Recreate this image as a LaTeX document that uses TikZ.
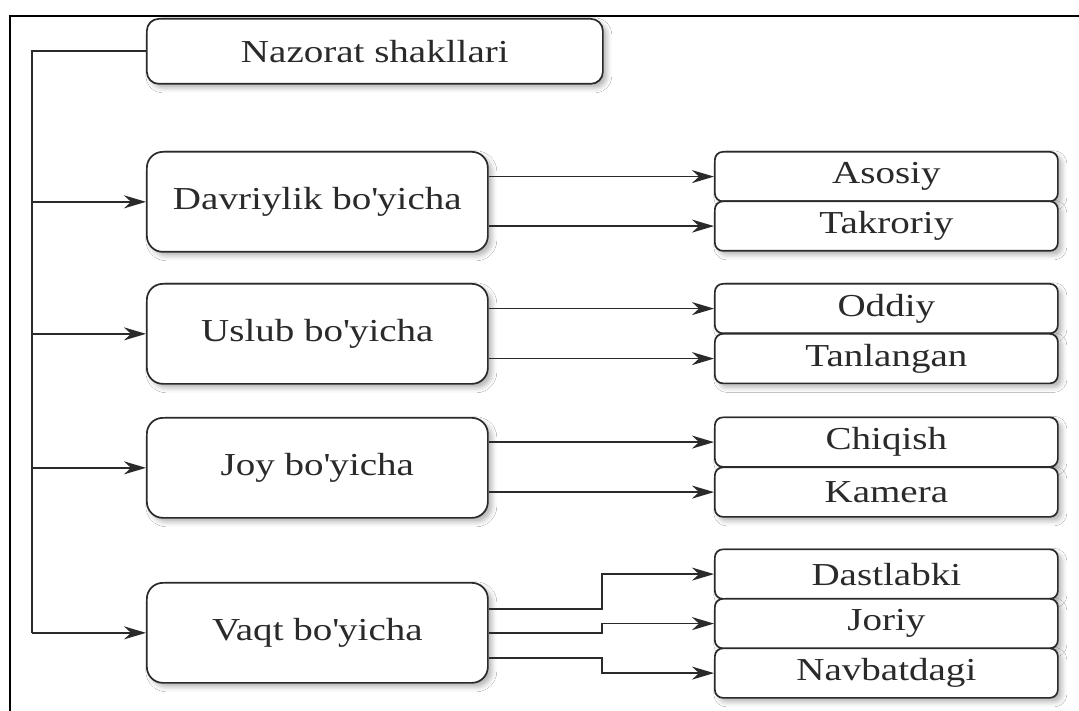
\documentclass[tikz,border=0pt]{standalone}
\usepackage{fontspec}
\setmainfont[FakeStretch=1.22]{Liberation Serif}
\usetikzlibrary{arrows.meta,shadows.blur}
\definecolor{ink}{HTML}{2A2A2A}
\begin{document}
\begin{tikzpicture}[x=1pt,y=-1pt,
  font=\fontsize{32}{38}\selectfont,
  boxbase/.style={draw=ink, line width=1.7pt, fill=white, text=ink, inner sep=0pt, anchor=north west,
    blur shadow={shadow xshift=4pt, shadow yshift=-4pt, shadow blur radius=5pt, shadow opacity=30}},
  topbox/.style={boxbase, rounded corners=12pt, minimum width=456pt, minimum height=65pt},
  mainbox/.style={boxbase, rounded corners=16pt, minimum width=341pt, minimum height=100pt},
  subbox/.style={boxbase, rounded corners=8pt, minimum width=343pt, minimum height=49.5pt},
  conn/.style={draw=ink, line width=1.7pt},
  arr/.style={conn, -{Stealth[length=22pt, width=13pt, inset=7pt]}}
]
\useasboundingbox[fill=white] (0,0) rectangle (1079,711);
% frame
\draw[line width=2pt, black] (10,711) -- (10,16) -- (1079,16);

% nodes
\node[topbox]  (naz)  at (146,18)  {Nazorat shakllari};
\node[mainbox] (dav)  at (146,151) {Davriylik bo\textquotesingle yicha};
\node[mainbox] (usl)  at (146,283) {Uslub bo\textquotesingle yicha};
\node[mainbox] (joy)  at (146,417) {Joy bo\textquotesingle yicha};
\node[mainbox] (vaqt) at (146,582) {Vaqt bo\textquotesingle yicha};

\node[subbox] (aso) at (714,151)   {Asosiy};
\node[subbox] (tak) at (714,200.5) {Takroriy};
\node[subbox] (odd) at (714,283)   {Oddiy};
\node[subbox] (tan) at (714,333)   {Tanlangan};
\node[subbox] (chi) at (714,416.5) {Chiqish};
\node[subbox] (kam) at (714,466.5) {Kamera};
\node[subbox] (dast) at (714,548.5) {Dastlabki};
\node[subbox] (jor)  at (714,598)   {Joriy};
\node[subbox] (navb) at (714,647.5) {Navbatdagi};

% trunk
\coordinate (trunk) at (32,0);
\draw[conn] (naz.west) -- (trunk |- naz.west) -- (trunk |- vaqt.west);
\draw[arr] (trunk |- dav.west)  -- (dav.west);
\draw[arr] (trunk |- usl.west)  -- (usl.west);
\draw[arr] (trunk |- joy.west)  -- (joy.west);
\draw[arr] (trunk |- vaqt.west) -- (vaqt.west);

% level 2
\draw[arr] (dav.east |- aso.west) -- (aso.west);
\draw[arr] (dav.east |- tak.west) -- (tak.west);
\draw[arr] (usl.east |- odd.west) -- (odd.west);
\draw[arr] (usl.east |- tan.west) -- (tan.west);
\draw[arr] (joy.east |- chi.west) -- (chi.west);
\draw[arr] (joy.east |- kam.west) -- (kam.west);

\draw[arr] ([yshift=24pt]vaqt.east) -- ++(113,0) |- (dast.west);
\draw[arr] (vaqt.east) -- ++(113,0) |- (jor.west);
\draw[arr] ([yshift=-25pt]vaqt.east) -- ++(113,0) |- (navb.west);
\end{tikzpicture}
\end{document}
